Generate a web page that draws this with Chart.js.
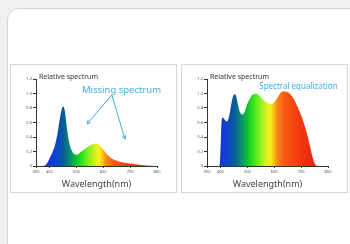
<!DOCTYPE html>
<html>
<head>
<meta charset="utf-8">
<script src="https://cdn.jsdelivr.net/npm/chart.js@4"></script>
<style>
  html, body { margin: 0; padding: 0; background: #f1f1f1; width: 350px; height: 244px; overflow: hidden; }
  .card { position: absolute; left: 7px; top: 8px; width: 370px; height: 250px; background: #fff;
          border: 1px solid #d4d4d4; border-radius: 12px; }
  .panel { position: absolute; top: 64px; width: 165px; height: 127px; border: 1px solid #d6d6d6; background: #fff; }
  .panel canvas { display: block; }
</style>
</head>
<body>
<div class="card"></div>
<div class="panel" style="left:10px"><canvas id="leftChart" width="165" height="127"></canvas></div>
<div class="panel" style="left:181px"><canvas id="rightChart" width="165" height="127"></canvas></div>
<script>
// Tick labels
const xTicks = [350, 400, 500, 600, 700, 800];
const yTicks = [0, 0.2, 0.4, 0.6, 0.8, 1.0, 1.2];

// Left chart: conventional LED spectrum (wavelength nm / relative value)
const leftWave = [350, 375, 385, 392, 400, 410, 420, 430, 440, 447, 452, 458, 465, 475, 485, 495, 505, 515, 530, 545, 560, 572, 582, 595, 610, 625, 640, 660, 680, 700, 720, 740, 760, 780, 792, 800];
const leftValue = [0, 0, 0.01, 0.04, 0.10, 0.18, 0.28, 0.45, 0.68, 0.80, 0.82, 0.74, 0.52, 0.30, 0.20, 0.16, 0.16, 0.19, 0.23, 0.27, 0.30, 0.31, 0.30, 0.25, 0.18, 0.12, 0.085, 0.06, 0.045, 0.035, 0.025, 0.015, 0.008, 0.003, 0, 0];

// Right chart: equalized full spectrum
const rightWave = [350, 390, 397, 401, 404, 408, 414, 422, 428, 436, 444, 452, 458, 465, 473, 481, 490, 500, 512, 522, 532, 542, 555, 570, 585, 598, 610, 622, 635, 648, 660, 672, 685, 700, 712, 722, 732, 740, 748, 755, 760, 800];
const rightValue = [0, 0, 0.01, 0.30, 0.60, 0.665, 0.65, 0.615, 0.63, 0.76, 0.92, 0.99, 0.97, 0.85, 0.74, 0.71, 0.75, 0.86, 0.95, 0.99, 0.995, 0.98, 0.93, 0.88, 0.86, 0.87, 0.93, 1.0, 1.03, 1.02, 0.99, 0.93, 0.83, 0.70, 0.57, 0.44, 0.29, 0.16, 0.06, 0.01, 0, 0];

// Spectrum colour stops (wavelength -> colour)
const stopWave = [390, 420, 440, 455, 470, 485, 500, 520, 545, 570, 585, 600, 615, 640, 690, 740];
const stopColor = ['#1530e0', '#1040d0', '#0a50b0', '#0a6090', '#088078', '#08a060', '#10c030', '#30e020', '#80f020', '#d8f020', '#f8f020', '#f8b818', '#f88018', '#f85814', '#f23c10', '#e82810'];

function spectrumFill(context) {
  const chart = context.chart;
  const x = chart.scales.x;
  if (!x || !chart.chartArea) return '#0a7a70';
  const x0 = x.getPixelForValue(350), x1 = x.getPixelForValue(800);
  const g = chart.ctx.createLinearGradient(x0, 0, x1, 0);
  stopWave.forEach((w, i) => g.addColorStop((w - 350) / 450, stopColor[i]));
  return g;
}

// Text and arrow annotations drawn in data space
const textPlugin = {
  id: 'notes',
  afterDraw(chart, args, opts) {
    const ctx = chart.ctx, a = chart.chartArea, x = chart.scales.x, y = chart.scales.y;
    ctx.save();
    ctx.fillStyle = '#333';
    ctx.font = '7px "Noto Sans"';
    ctx.textBaseline = 'middle';
    ctx.textAlign = 'left';
    ctx.fillText('Relative spectrum', a.left + 3, a.top - 2);
    ctx.fillStyle = '#3fb0e2';
    ctx.font = opts.labelFont;
    ctx.textAlign = 'center';
    ctx.fillText(opts.label, x.getPixelForValue(opts.labelAt[0]), y.getPixelForValue(opts.labelAt[1]));
    if (opts.arrowFrom) {
      ctx.strokeStyle = '#3fb0e2';
      ctx.lineWidth = 1;
      const sx = x.getPixelForValue(opts.arrowFrom[0]), sy = y.getPixelForValue(opts.arrowFrom[1]);
      opts.arrowTo.forEach(t => {
        const ex = x.getPixelForValue(t[0]), ey = y.getPixelForValue(t[1]);
        const ang = Math.atan2(ey - sy, ex - sx);
        ctx.beginPath();
        ctx.moveTo(sx, sy);
        ctx.lineTo(ex, ey);
        ctx.moveTo(ex - 4 * Math.cos(ang - 0.45), ey - 4 * Math.sin(ang - 0.45));
        ctx.lineTo(ex, ey);
        ctx.lineTo(ex - 4 * Math.cos(ang + 0.45), ey - 4 * Math.sin(ang + 0.45));
        ctx.stroke();
      });
    }
    ctx.restore();
  }
};

function makeChart(id, wave, values, notes) {
  const ctx = document.getElementById(id).getContext('2d');
  return new Chart(ctx, {
    type: 'line',
    data: {
      datasets: [{
        data: wave.map((w, i) => ({ x: w, y: values[i] })),
        fill: 'origin',
        backgroundColor: spectrumFill,
        borderWidth: 0,
        pointRadius: 0,
        cubicInterpolationMode: 'monotone'
      }]
    },
    options: {
      responsive: false,
      animation: false,
      layout: { padding: { left: 0, right: 19, top: 14, bottom: 0 } },
      plugins: { legend: { display: false }, tooltip: { enabled: false }, notes: notes },
      scales: {
        x: {
          type: 'linear', min: 350, max: 800,
          afterBuildTicks: s => { s.ticks = xTicks.map(v => ({ value: v })); },
          afterFit: s => { s.height = 26; },
          border: { color: '#333', width: 1 },
          grid: { drawOnChartArea: false, tickLength: 2, color: '#333' },
          ticks: { font: { size: 4, family: 'Noto Sans' }, color: '#555', padding: 1, maxRotation: 0, autoSkip: false },
          title: { display: true, text: 'Wavelength(nm)', color: '#444', font: { size: 9, family: 'Noto Sans' }, padding: { top: 0, bottom: 2 } }
        },
        y: {
          min: 0, max: 1.2,
          afterBuildTicks: s => { s.ticks = yTicks.map(v => ({ value: v })); },
          afterFit: s => { s.width = 25; },
          border: { color: '#333', width: 1 },
          grid: { drawOnChartArea: false, tickLength: 3, color: '#333' },
          ticks: { font: { size: 4, family: 'Noto Sans' }, color: '#555', padding: 1,
                   callback: v => v === 0 ? '0' : v.toFixed(1) }
        }
      }
    },
    plugins: [textPlugin]
  });
}

makeChart('leftChart', leftWave, leftValue, {
  label: 'Missing spectrum', labelFont: '9.5px "Noto Sans"', labelAt: [668, 1.05],
  arrowFrom: [632, 0.98], arrowTo: [[540, 0.58], [681, 0.37]]
});
makeChart('rightChart', rightWave, rightValue, {
  label: 'Spectral equalization', labelFont: '8px "Noto Sans"', labelAt: [690, 1.10]
});
</script>
</body>
</html>
